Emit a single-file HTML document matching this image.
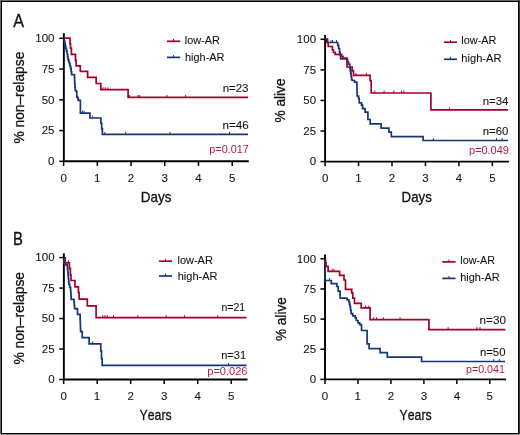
<!DOCTYPE html>
<html><head><meta charset="utf-8"><style>
html,body{margin:0;padding:0;background:#fff;}
body{width:520px;height:435px;overflow:hidden;position:relative;}
svg{position:absolute;left:0;top:0;display:block;will-change:transform;}
text{font-family:"Liberation Sans",sans-serif;font-kerning:none;white-space:pre;}
</style></head><body>
<svg width="520" height="435" viewBox="0 0 520 435">
<rect x="0" y="0" width="520" height="435" fill="#fff"/>
<rect x="0" y="0" width="520" height="1" fill="#666"/>
<rect x="0" y="0" width="1" height="435" fill="#666"/>
<rect x="519" y="0" width="1" height="435" fill="#3a3a3a"/>
<rect x="0" y="434" width="520" height="1" fill="#888"/>
<rect x="1.5" y="1.5" width="517" height="432" fill="none" stroke="#000" stroke-width="1"/>
<g transform="translate(0,0.3)"><path d="M63.85 33V161H248.75" fill="none" stroke="#000" stroke-width="1.9" stroke-linejoin="miter" stroke-linecap="butt"/><line x1="63.6" y1="161" x2="63.6" y2="165.6" stroke="#000" stroke-width="1.5"/><line x1="97.32" y1="161" x2="97.32" y2="165.6" stroke="#000" stroke-width="1.5"/><line x1="131.04" y1="161" x2="131.04" y2="165.6" stroke="#000" stroke-width="1.5"/><line x1="164.76" y1="161" x2="164.76" y2="165.6" stroke="#000" stroke-width="1.5"/><line x1="198.48" y1="161" x2="198.48" y2="165.6" stroke="#000" stroke-width="1.5"/><line x1="232.2" y1="161" x2="232.2" y2="165.6" stroke="#000" stroke-width="1.5"/><line x1="63.85" y1="38" x2="59.25" y2="38" stroke="#000" stroke-width="1.5"/><line x1="63.85" y1="68.75" x2="59.25" y2="68.75" stroke="#000" stroke-width="1.5"/><line x1="63.85" y1="99.5" x2="59.25" y2="99.5" stroke="#000" stroke-width="1.5"/><line x1="63.85" y1="130.25" x2="59.25" y2="130.25" stroke="#000" stroke-width="1.5"/><line x1="63.85" y1="161" x2="59.25" y2="161" stroke="#000" stroke-width="1.5"/>





<line x1="166.9" y1="41" x2="180.2" y2="41" stroke="#a2002a" stroke-width="1.7"/><line x1="173.55" y1="41" x2="173.55" y2="38.6" stroke="#a2002a" stroke-width="1"/><line x1="166.9" y1="57.1" x2="180.2" y2="57.1" stroke="#17367a" stroke-width="1.7"/><line x1="173.55" y1="57.1" x2="173.55" y2="54.7" stroke="#17367a" stroke-width="1"/>



<path d="M63.8 38.3H64.28V40.72H64.75V43.15H65.22V45.58H65.7V48H66.4V50.75H67.1V53.5H67.55V56.25H68V59H68.7V61.3H69.4V63.6H70.05V66.1H70.7V68.6H71.15V71.45H71.6V74.3H74.4V74.3H74.5V77.33H74.6V80.37H74.7V83.4H74.95V86.8H75.2V90.2H76.3V91.2H76.8V96.9H77.8V98.4H78.3V100H80.4V112.8H89.9V117.7H100.9V123.1H101.7V128.3H102.4V134H248" fill="none" stroke="#17367a" stroke-width="1.7" stroke-linejoin="miter" stroke-linecap="butt"/>
<path d="M63.6 37.9H70V43.4H70.5V47.8H71.4V54.1H75.5V60.1H76.1V65.6H80.3V71.1H87.6V77.1H96.2V83.2H100.8V89.4H128.1V97.1H248.1" fill="none" stroke="#a2002a" stroke-width="1.7" stroke-linejoin="miter" stroke-linecap="butt"/>
<line x1="103" y1="89.4" x2="103" y2="87" stroke="#a2002a" stroke-width="1"/><line x1="105.4" y1="89.4" x2="105.4" y2="87" stroke="#a2002a" stroke-width="1"/><line x1="107.9" y1="89.4" x2="107.9" y2="87" stroke="#a2002a" stroke-width="1"/>
<line x1="129.6" y1="97.1" x2="129.6" y2="94.7" stroke="#a2002a" stroke-width="1"/><line x1="137.9" y1="97.1" x2="137.9" y2="94.7" stroke="#a2002a" stroke-width="1"/><line x1="139.75" y1="97.1" x2="139.75" y2="94.7" stroke="#a2002a" stroke-width="1"/><line x1="166.9" y1="97.1" x2="166.9" y2="94.7" stroke="#a2002a" stroke-width="1"/><line x1="185.6" y1="97.1" x2="185.6" y2="94.7" stroke="#a2002a" stroke-width="1"/>
<line x1="82.5" y1="112.8" x2="82.5" y2="110.4" stroke="#17367a" stroke-width="1"/><line x1="84" y1="112.8" x2="84" y2="110.4" stroke="#17367a" stroke-width="1"/>
<line x1="92.5" y1="117.7" x2="92.5" y2="115.3" stroke="#17367a" stroke-width="1"/>
<line x1="104.8" y1="134" x2="104.8" y2="131.6" stroke="#17367a" stroke-width="1"/><line x1="125.7" y1="134" x2="125.7" y2="131.6" stroke="#17367a" stroke-width="1"/><line x1="170" y1="134" x2="170" y2="131.6" stroke="#17367a" stroke-width="1"/><line x1="229.5" y1="134" x2="229.5" y2="131.6" stroke="#17367a" stroke-width="1"/>
<path d="M325.1 34.7V161.3H508.9" fill="none" stroke="#000" stroke-width="1.9" stroke-linejoin="miter" stroke-linecap="butt"/><line x1="325.1" y1="161.3" x2="325.1" y2="165.9" stroke="#000" stroke-width="1.5"/><line x1="358.55" y1="161.3" x2="358.55" y2="165.9" stroke="#000" stroke-width="1.5"/><line x1="392" y1="161.3" x2="392" y2="165.9" stroke="#000" stroke-width="1.5"/><line x1="425.45" y1="161.3" x2="425.45" y2="165.9" stroke="#000" stroke-width="1.5"/><line x1="458.9" y1="161.3" x2="458.9" y2="165.9" stroke="#000" stroke-width="1.5"/><line x1="492.35" y1="161.3" x2="492.35" y2="165.9" stroke="#000" stroke-width="1.5"/><line x1="325.1" y1="39" x2="320.5" y2="39" stroke="#000" stroke-width="1.5"/><line x1="325.1" y1="69.58" x2="320.5" y2="69.58" stroke="#000" stroke-width="1.5"/><line x1="325.1" y1="100.15" x2="320.5" y2="100.15" stroke="#000" stroke-width="1.5"/><line x1="325.1" y1="130.73" x2="320.5" y2="130.73" stroke="#000" stroke-width="1.5"/><line x1="325.1" y1="161.3" x2="320.5" y2="161.3" stroke="#000" stroke-width="1.5"/>




<line x1="443.9" y1="41.9" x2="457" y2="41.9" stroke="#a2002a" stroke-width="1.7"/><line x1="450.45" y1="41.9" x2="450.45" y2="39.5" stroke="#a2002a" stroke-width="1"/><line x1="443.9" y1="59" x2="457" y2="59" stroke="#17367a" stroke-width="1.7"/><line x1="450.45" y1="59" x2="450.45" y2="56.6" stroke="#17367a" stroke-width="1"/>



<path d="M325.3 39H327.6V42.2H337.7V45.1H338.6V48.2H339.5V51.7H340.1V55H340.6V58.6H346.8V59.4H347.6V61.65H348.4V63.9H349.8V67.6H350.25V70.35H350.7V73.1H351.15V76.25H351.6V79.4H352.3V80.2H354.6V81.9H356.9V83.6H356.95V86.62H357V89.65H357.05V92.67H357.1V95.7H358.6V98H359.2V102.6H361.5V104.9H362.6V108.3H365V109.5H365.1V111.8H367.9V119.2H370.2V123.6H381.1V127.9H388.9V131.9H391.3V136.3H423.1V140.2H508.1" fill="none" stroke="#17367a" stroke-width="1.7" stroke-linejoin="miter" stroke-linecap="butt"/>
<path d="M325.3 38.7H326.7V42.2H328.2V46.2H332.5V49.9H333.4V52H335.1V54H341.5V56H343V57.9H347V66.7H352.1V70.5H353.5V75H370.1V80.3H371.2V92.7H430.9V109.6H508.1" fill="none" stroke="#a2002a" stroke-width="1.7" stroke-linejoin="miter" stroke-linecap="butt"/>
<line x1="331" y1="42.2" x2="331" y2="39.8" stroke="#17367a" stroke-width="1"/><line x1="332.5" y1="42.2" x2="332.5" y2="39.8" stroke="#17367a" stroke-width="1"/><line x1="336.5" y1="42.2" x2="336.5" y2="39.8" stroke="#17367a" stroke-width="1"/>
<line x1="356" y1="75" x2="356" y2="72.6" stroke="#a2002a" stroke-width="1"/><line x1="366.3" y1="75" x2="366.3" y2="72.6" stroke="#a2002a" stroke-width="1"/>
<line x1="374.7" y1="92.7" x2="374.7" y2="90.3" stroke="#a2002a" stroke-width="1"/><line x1="384.1" y1="92.7" x2="384.1" y2="90.3" stroke="#a2002a" stroke-width="1"/><line x1="393.8" y1="92.7" x2="393.8" y2="90.3" stroke="#a2002a" stroke-width="1"/><line x1="401.5" y1="92.7" x2="401.5" y2="90.3" stroke="#a2002a" stroke-width="1"/><line x1="403.9" y1="92.7" x2="403.9" y2="90.3" stroke="#a2002a" stroke-width="1"/>
<line x1="449.6" y1="109.6" x2="449.6" y2="107.2" stroke="#a2002a" stroke-width="1"/>
<line x1="433.3" y1="140.2" x2="433.3" y2="137.8" stroke="#17367a" stroke-width="1"/><line x1="496.5" y1="140.2" x2="496.5" y2="137.8" stroke="#17367a" stroke-width="1"/><line x1="502.1" y1="140.2" x2="502.1" y2="137.8" stroke="#17367a" stroke-width="1"/>
<path d="M63.85 253V379.2H247.5" fill="none" stroke="#000" stroke-width="1.9" stroke-linejoin="miter" stroke-linecap="butt"/><line x1="63.7" y1="379.2" x2="63.7" y2="383.8" stroke="#000" stroke-width="1.5"/><line x1="97.2" y1="379.2" x2="97.2" y2="383.8" stroke="#000" stroke-width="1.5"/><line x1="130.7" y1="379.2" x2="130.7" y2="383.8" stroke="#000" stroke-width="1.5"/><line x1="164.2" y1="379.2" x2="164.2" y2="383.8" stroke="#000" stroke-width="1.5"/><line x1="197.7" y1="379.2" x2="197.7" y2="383.8" stroke="#000" stroke-width="1.5"/><line x1="231.2" y1="379.2" x2="231.2" y2="383.8" stroke="#000" stroke-width="1.5"/><line x1="63.85" y1="257.3" x2="59.25" y2="257.3" stroke="#000" stroke-width="1.5"/><line x1="63.85" y1="287.77" x2="59.25" y2="287.77" stroke="#000" stroke-width="1.5"/><line x1="63.85" y1="318.25" x2="59.25" y2="318.25" stroke="#000" stroke-width="1.5"/><line x1="63.85" y1="348.73" x2="59.25" y2="348.73" stroke="#000" stroke-width="1.5"/><line x1="63.85" y1="379.2" x2="59.25" y2="379.2" stroke="#000" stroke-width="1.5"/>





<line x1="159" y1="260.9" x2="172" y2="260.9" stroke="#a2002a" stroke-width="1.7"/><line x1="165.5" y1="260.9" x2="165.5" y2="258.5" stroke="#a2002a" stroke-width="1"/><line x1="159" y1="275.7" x2="172" y2="275.7" stroke="#17367a" stroke-width="1.7"/><line x1="165.5" y1="275.7" x2="165.5" y2="273.3" stroke="#17367a" stroke-width="1"/>



<path d="M64.4 257.6H65.2V261.6H65.3V264.5H67.2V266H67.5V269H67.8V272H68.1V275H68.37V278.07H68.63V281.13H68.9V284.2H69.75V287.1H70.6V290H70.8V293.03H71V296.07H71.2V299.1H74V302H74.3V305.15H74.6V308.3H76.9V308.9H77.5V314.1H80.1V318H80.22V321.35H80.35V324.7H80.47V328.05H80.6V331.4H82.2V337.3H89.1V343.5H100.8V350.7H101.5V358.3H102.2V365H246.5" fill="none" stroke="#17367a" stroke-width="1.7" stroke-linejoin="miter" stroke-linecap="butt"/>
<path d="M64 257.4H64V262.5H69.4V268.1H70.4V274.5H71V280.2H75V286.5H78.4V292.2H79.2V298.9H87.3V305.5H96.1V317.3H246.5" fill="none" stroke="#a2002a" stroke-width="1.7" stroke-linejoin="miter" stroke-linecap="butt"/>
<line x1="68.4" y1="262.5" x2="68.4" y2="260.1" stroke="#a2002a" stroke-width="1"/>
<line x1="102.7" y1="317.3" x2="102.7" y2="314.9" stroke="#a2002a" stroke-width="1"/><line x1="105" y1="317.3" x2="105" y2="314.9" stroke="#a2002a" stroke-width="1"/><line x1="107.3" y1="317.3" x2="107.3" y2="314.9" stroke="#a2002a" stroke-width="1"/><line x1="113.5" y1="317.3" x2="113.5" y2="314.9" stroke="#a2002a" stroke-width="1"/><line x1="137.8" y1="317.3" x2="137.8" y2="314.9" stroke="#a2002a" stroke-width="1"/><line x1="166.2" y1="317.3" x2="166.2" y2="314.9" stroke="#a2002a" stroke-width="1"/><line x1="184.6" y1="317.3" x2="184.6" y2="314.9" stroke="#a2002a" stroke-width="1"/><line x1="217.7" y1="317.3" x2="217.7" y2="314.9" stroke="#a2002a" stroke-width="1"/>
<line x1="92.6" y1="343.5" x2="92.6" y2="341.1" stroke="#17367a" stroke-width="1"/>
<line x1="228.4" y1="365" x2="228.4" y2="362.6" stroke="#17367a" stroke-width="1"/>
<path d="M325 254.2V379.1H506" fill="none" stroke="#000" stroke-width="1.9" stroke-linejoin="miter" stroke-linecap="butt"/><line x1="325" y1="379.1" x2="325" y2="383.7" stroke="#000" stroke-width="1.5"/><line x1="357.96" y1="379.1" x2="357.96" y2="383.7" stroke="#000" stroke-width="1.5"/><line x1="390.92" y1="379.1" x2="390.92" y2="383.7" stroke="#000" stroke-width="1.5"/><line x1="423.88" y1="379.1" x2="423.88" y2="383.7" stroke="#000" stroke-width="1.5"/><line x1="456.84" y1="379.1" x2="456.84" y2="383.7" stroke="#000" stroke-width="1.5"/><line x1="489.8" y1="379.1" x2="489.8" y2="383.7" stroke="#000" stroke-width="1.5"/><line x1="325" y1="258.5" x2="320.4" y2="258.5" stroke="#000" stroke-width="1.5"/><line x1="325" y1="288.65" x2="320.4" y2="288.65" stroke="#000" stroke-width="1.5"/><line x1="325" y1="318.8" x2="320.4" y2="318.8" stroke="#000" stroke-width="1.5"/><line x1="325" y1="348.95" x2="320.4" y2="348.95" stroke="#000" stroke-width="1.5"/><line x1="325" y1="379.1" x2="320.4" y2="379.1" stroke="#000" stroke-width="1.5"/>




<line x1="442.3" y1="261.6" x2="455.6" y2="261.6" stroke="#a2002a" stroke-width="1.7"/><line x1="448.95" y1="261.6" x2="448.95" y2="259.2" stroke="#a2002a" stroke-width="1"/><line x1="442.3" y1="278.1" x2="455.6" y2="278.1" stroke="#17367a" stroke-width="1.7"/><line x1="448.95" y1="278.1" x2="448.95" y2="275.7" stroke="#17367a" stroke-width="1"/>



<path d="M325.2 259H325.2V280.2H331.3V283.4H336.8V286.2H338.2V290.8H340V292H340.1V294.9H340.2V297.8H347.1V299.5H348.8V301.3H349.4V303.85H350V306.4H350.55V309.85H351.1V313.3H352.8V315.6H355.1V317.4H356.3V320.2H358V322.5H359.7V324.3H361.4V325.4H361.5V330.2H367.1V343.6H369.1V348.3H380.1V352.3H387.3V356.9H421.6V361.2H505" fill="none" stroke="#17367a" stroke-width="1.7" stroke-linejoin="miter" stroke-linecap="butt"/>
<path d="M325.1 259.1H325.55V262.55H326V266H328.1V271H339.6V275.1H344V279.7H345.5V289H351.7V292.6H352.8V297.8H354.5V303H361.2V307.6H370.1V319.4H428.9V329.3H505.4" fill="none" stroke="#a2002a" stroke-width="1.7" stroke-linejoin="miter" stroke-linecap="butt"/>
<line x1="329.4" y1="280.2" x2="329.4" y2="277.8" stroke="#17367a" stroke-width="1"/>
<line x1="332.2" y1="271" x2="332.2" y2="268.6" stroke="#a2002a" stroke-width="1"/><line x1="334" y1="271" x2="334" y2="268.6" stroke="#a2002a" stroke-width="1"/>
<line x1="365.5" y1="307.6" x2="365.5" y2="305.2" stroke="#a2002a" stroke-width="1"/><line x1="368.9" y1="307.6" x2="368.9" y2="305.2" stroke="#a2002a" stroke-width="1"/>
<line x1="373.8" y1="319.4" x2="373.8" y2="317" stroke="#a2002a" stroke-width="1"/><line x1="376.5" y1="319.4" x2="376.5" y2="317" stroke="#a2002a" stroke-width="1"/><line x1="383.3" y1="319.4" x2="383.3" y2="317" stroke="#a2002a" stroke-width="1"/><line x1="400.1" y1="319.4" x2="400.1" y2="317" stroke="#a2002a" stroke-width="1"/>
<line x1="448.1" y1="329.3" x2="448.1" y2="326.9" stroke="#a2002a" stroke-width="1"/><line x1="476.9" y1="329.3" x2="476.9" y2="326.9" stroke="#a2002a" stroke-width="1"/><line x1="480" y1="329.3" x2="480" y2="326.9" stroke="#a2002a" stroke-width="1"/>
<line x1="493.7" y1="361.2" x2="493.7" y2="358.8" stroke="#17367a" stroke-width="1"/><line x1="499.2" y1="361.2" x2="499.2" y2="358.8" stroke="#17367a" stroke-width="1"/></g>

<text x="35.26" y="42.01" font-size="11.5" fill="#111" stroke="#111" stroke-width="0.08" textLength="19.19" lengthAdjust="spacingAndGlyphs">100</text><text x="41.69" y="72.76" font-size="11.5" fill="#111" stroke="#111" stroke-width="0.08" textLength="12.79" lengthAdjust="spacingAndGlyphs">75</text><text x="41.66" y="103.51" font-size="11.5" fill="#111" stroke="#111" stroke-width="0.08" textLength="12.79" lengthAdjust="spacingAndGlyphs">50</text><text x="41.69" y="134.26" font-size="11.5" fill="#111" stroke="#111" stroke-width="0.08" textLength="12.79" lengthAdjust="spacingAndGlyphs">25</text><text x="48.05" y="165.01" font-size="11.5" fill="#111" stroke="#111" stroke-width="0.08" textLength="6.4" lengthAdjust="spacingAndGlyphs">0</text>
<text x="60.4" y="181.9" font-size="11.5" fill="#111" stroke="#111" stroke-width="0.08" textLength="6.4" lengthAdjust="spacingAndGlyphs">0</text><text x="93.96" y="181.9" font-size="11.5" fill="#111" stroke="#111" stroke-width="0.08" textLength="6.4" lengthAdjust="spacingAndGlyphs">1</text><text x="127.84" y="181.9" font-size="11.5" fill="#111" stroke="#111" stroke-width="0.08" textLength="6.4" lengthAdjust="spacingAndGlyphs">2</text><text x="161.6" y="181.9" font-size="11.5" fill="#111" stroke="#111" stroke-width="0.08" textLength="6.4" lengthAdjust="spacingAndGlyphs">3</text><text x="195.32" y="181.9" font-size="11.5" fill="#111" stroke="#111" stroke-width="0.08" textLength="6.4" lengthAdjust="spacingAndGlyphs">4</text><text x="229.01" y="181.9" font-size="11.5" fill="#111" stroke="#111" stroke-width="0.08" textLength="6.4" lengthAdjust="spacingAndGlyphs">5</text>
<text x="140.79" y="201.8" font-size="14.5" fill="#111" stroke="#111" stroke-width="0.3" textLength="30.69" lengthAdjust="spacingAndGlyphs">Days</text>
<text transform="translate(24.3,143.59) rotate(-90)" font-size="14.5" fill="#111" stroke="#111" stroke-width="0.3" textLength="91.9" lengthAdjust="spacingAndGlyphs">% non–relapse</text>
<text x="13.27" y="26.9" font-size="18.5" fill="#111" stroke="#111" stroke-width="0.3" textLength="10.76" lengthAdjust="spacingAndGlyphs">A</text>
<text x="184.77" y="43.5" font-size="11.5" fill="#111" stroke="#111" stroke-width="0.08" textLength="35.14" lengthAdjust="spacingAndGlyphs">low-AR</text><text x="184.94" y="60.8" font-size="11.5" fill="#111" stroke="#111" stroke-width="0.08" textLength="39.57" lengthAdjust="spacingAndGlyphs">high-AR</text>
<text x="222.64" y="91.8" font-size="11.5" fill="#111" stroke="#111" stroke-width="0.08" textLength="25.87" lengthAdjust="spacingAndGlyphs">n=23</text>
<text x="222.52" y="128.5" font-size="11.5" fill="#111" stroke="#111" stroke-width="0.08" textLength="26.29" lengthAdjust="spacingAndGlyphs">n=46</text>
<text x="209.3" y="153.1" font-size="11.5" fill="#b41a44" textLength="39.44" lengthAdjust="spacingAndGlyphs">p=0.017</text>








<text x="296.86" y="43.01" font-size="11.5" fill="#111" stroke="#111" stroke-width="0.08" textLength="19.19" lengthAdjust="spacingAndGlyphs">100</text><text x="303.29" y="73.59" font-size="11.5" fill="#111" stroke="#111" stroke-width="0.08" textLength="12.79" lengthAdjust="spacingAndGlyphs">75</text><text x="303.26" y="104.16" font-size="11.5" fill="#111" stroke="#111" stroke-width="0.08" textLength="12.79" lengthAdjust="spacingAndGlyphs">50</text><text x="303.29" y="134.74" font-size="11.5" fill="#111" stroke="#111" stroke-width="0.08" textLength="12.79" lengthAdjust="spacingAndGlyphs">25</text><text x="309.65" y="165.31" font-size="11.5" fill="#111" stroke="#111" stroke-width="0.08" textLength="6.4" lengthAdjust="spacingAndGlyphs">0</text>
<text x="321.9" y="182" font-size="11.5" fill="#111" stroke="#111" stroke-width="0.08" textLength="6.4" lengthAdjust="spacingAndGlyphs">0</text><text x="355.19" y="182" font-size="11.5" fill="#111" stroke="#111" stroke-width="0.08" textLength="6.4" lengthAdjust="spacingAndGlyphs">1</text><text x="388.8" y="182" font-size="11.5" fill="#111" stroke="#111" stroke-width="0.08" textLength="6.4" lengthAdjust="spacingAndGlyphs">2</text><text x="422.29" y="182" font-size="11.5" fill="#111" stroke="#111" stroke-width="0.08" textLength="6.4" lengthAdjust="spacingAndGlyphs">3</text><text x="455.74" y="182" font-size="11.5" fill="#111" stroke="#111" stroke-width="0.08" textLength="6.4" lengthAdjust="spacingAndGlyphs">4</text><text x="489.16" y="182" font-size="11.5" fill="#111" stroke="#111" stroke-width="0.08" textLength="6.4" lengthAdjust="spacingAndGlyphs">5</text>
<text x="401.61" y="201.8" font-size="14.5" fill="#111" stroke="#111" stroke-width="0.3" textLength="30.16" lengthAdjust="spacingAndGlyphs">Days</text>
<text transform="translate(285.4,122.59) rotate(-90)" font-size="14.5" fill="#111" stroke="#111" stroke-width="0.3" textLength="44.2" lengthAdjust="spacingAndGlyphs">% alive</text>
<text x="461.37" y="44.3" font-size="11.5" fill="#111" stroke="#111" stroke-width="0.08" textLength="35.14" lengthAdjust="spacingAndGlyphs">low-AR</text><text x="461.33" y="61.8" font-size="11.5" fill="#111" stroke="#111" stroke-width="0.08" textLength="40.08" lengthAdjust="spacingAndGlyphs">high-AR</text>
<text x="482.64" y="104.7" font-size="11.5" fill="#111" stroke="#111" stroke-width="0.08" textLength="25.8" lengthAdjust="spacingAndGlyphs">n=34</text>
<text x="482.75" y="134.8" font-size="11.5" fill="#111" stroke="#111" stroke-width="0.08" textLength="25.49" lengthAdjust="spacingAndGlyphs">n=60</text>
<text x="469.1" y="154" font-size="11.5" fill="#b41a44" textLength="39.72" lengthAdjust="spacingAndGlyphs">p=0.049</text>








<text x="35.36" y="261.31" font-size="11.5" fill="#111" stroke="#111" stroke-width="0.08" textLength="19.19" lengthAdjust="spacingAndGlyphs">100</text><text x="41.79" y="291.79" font-size="11.5" fill="#111" stroke="#111" stroke-width="0.08" textLength="12.79" lengthAdjust="spacingAndGlyphs">75</text><text x="41.76" y="322.26" font-size="11.5" fill="#111" stroke="#111" stroke-width="0.08" textLength="12.79" lengthAdjust="spacingAndGlyphs">50</text><text x="41.79" y="352.74" font-size="11.5" fill="#111" stroke="#111" stroke-width="0.08" textLength="12.79" lengthAdjust="spacingAndGlyphs">25</text><text x="48.15" y="383.21" font-size="11.5" fill="#111" stroke="#111" stroke-width="0.08" textLength="6.4" lengthAdjust="spacingAndGlyphs">0</text>
<text x="60.5" y="400" font-size="11.5" fill="#111" stroke="#111" stroke-width="0.08" textLength="6.4" lengthAdjust="spacingAndGlyphs">0</text><text x="93.84" y="400" font-size="11.5" fill="#111" stroke="#111" stroke-width="0.08" textLength="6.4" lengthAdjust="spacingAndGlyphs">1</text><text x="127.5" y="400" font-size="11.5" fill="#111" stroke="#111" stroke-width="0.08" textLength="6.4" lengthAdjust="spacingAndGlyphs">2</text><text x="161.04" y="400" font-size="11.5" fill="#111" stroke="#111" stroke-width="0.08" textLength="6.4" lengthAdjust="spacingAndGlyphs">3</text><text x="194.54" y="400" font-size="11.5" fill="#111" stroke="#111" stroke-width="0.08" textLength="6.4" lengthAdjust="spacingAndGlyphs">4</text><text x="228.01" y="400" font-size="11.5" fill="#111" stroke="#111" stroke-width="0.08" textLength="6.4" lengthAdjust="spacingAndGlyphs">5</text>
<text x="139.53" y="419.5" font-size="14.5" fill="#111" stroke="#111" stroke-width="0.3" textLength="32.11" lengthAdjust="spacingAndGlyphs">Years</text>
<text transform="translate(24.4,364.6) rotate(-90)" font-size="14.5" fill="#111" stroke="#111" stroke-width="0.3" textLength="92.71" lengthAdjust="spacingAndGlyphs">% non–relapse</text>
<text x="13.08" y="244.8" font-size="18.5" fill="#111" stroke="#111" stroke-width="0.3" textLength="9.9" lengthAdjust="spacingAndGlyphs">B</text>
<text x="177.56" y="264.4" font-size="11.5" fill="#111" stroke="#111" stroke-width="0.08" textLength="35.24" lengthAdjust="spacingAndGlyphs">low-AR</text><text x="177.74" y="279.7" font-size="11.5" fill="#111" stroke="#111" stroke-width="0.08" textLength="39.67" lengthAdjust="spacingAndGlyphs">high-AR</text>
<text x="221.4" y="310.5" font-size="11.5" fill="#111" stroke="#111" stroke-width="0.08" textLength="23.71" lengthAdjust="spacingAndGlyphs">n=21</text>
<text x="221.17" y="358.8" font-size="11.5" fill="#111" stroke="#111" stroke-width="0.08" textLength="24.87" lengthAdjust="spacingAndGlyphs">n=31</text>
<text x="207.29" y="375.4" font-size="11.5" fill="#b41a44" textLength="40.2" lengthAdjust="spacingAndGlyphs">p=0.026</text>







<text x="296.86" y="262.51" font-size="11.5" fill="#111" stroke="#111" stroke-width="0.08" textLength="19.19" lengthAdjust="spacingAndGlyphs">100</text><text x="303.29" y="292.66" font-size="11.5" fill="#111" stroke="#111" stroke-width="0.08" textLength="12.79" lengthAdjust="spacingAndGlyphs">75</text><text x="303.26" y="322.81" font-size="11.5" fill="#111" stroke="#111" stroke-width="0.08" textLength="12.79" lengthAdjust="spacingAndGlyphs">50</text><text x="303.29" y="352.96" font-size="11.5" fill="#111" stroke="#111" stroke-width="0.08" textLength="12.79" lengthAdjust="spacingAndGlyphs">25</text><text x="309.65" y="383.11" font-size="11.5" fill="#111" stroke="#111" stroke-width="0.08" textLength="6.4" lengthAdjust="spacingAndGlyphs">0</text>
<text x="321.8" y="400" font-size="11.5" fill="#111" stroke="#111" stroke-width="0.08" textLength="6.4" lengthAdjust="spacingAndGlyphs">0</text><text x="354.6" y="400" font-size="11.5" fill="#111" stroke="#111" stroke-width="0.08" textLength="6.4" lengthAdjust="spacingAndGlyphs">1</text><text x="387.72" y="400" font-size="11.5" fill="#111" stroke="#111" stroke-width="0.08" textLength="6.4" lengthAdjust="spacingAndGlyphs">2</text><text x="420.72" y="400" font-size="11.5" fill="#111" stroke="#111" stroke-width="0.08" textLength="6.4" lengthAdjust="spacingAndGlyphs">3</text><text x="453.68" y="400" font-size="11.5" fill="#111" stroke="#111" stroke-width="0.08" textLength="6.4" lengthAdjust="spacingAndGlyphs">4</text><text x="486.61" y="400" font-size="11.5" fill="#111" stroke="#111" stroke-width="0.08" textLength="6.4" lengthAdjust="spacingAndGlyphs">5</text>
<text x="399.53" y="419.5" font-size="14.5" fill="#111" stroke="#111" stroke-width="0.3" textLength="32.11" lengthAdjust="spacingAndGlyphs">Years</text>
<text transform="translate(285.5,341.09) rotate(-90)" font-size="14.5" fill="#111" stroke="#111" stroke-width="0.3" textLength="43.89" lengthAdjust="spacingAndGlyphs">% alive</text>
<text x="460.28" y="263.9" font-size="11.5" fill="#111" stroke="#111" stroke-width="0.08" textLength="34.62" lengthAdjust="spacingAndGlyphs">low-AR</text><text x="460.24" y="281.3" font-size="11.5" fill="#111" stroke="#111" stroke-width="0.08" textLength="39.46" lengthAdjust="spacingAndGlyphs">high-AR</text>
<text x="479.62" y="323.8" font-size="11.5" fill="#111" stroke="#111" stroke-width="0.08" textLength="26.33" lengthAdjust="spacingAndGlyphs">n=30</text>
<text x="479.95" y="355.6" font-size="11.5" fill="#111" stroke="#111" stroke-width="0.08" textLength="25.49" lengthAdjust="spacingAndGlyphs">n=50</text>
<text x="466.01" y="373.4" font-size="11.5" fill="#b41a44" textLength="38.91" lengthAdjust="spacingAndGlyphs">p=0.041</text>








</svg>
</body></html>
